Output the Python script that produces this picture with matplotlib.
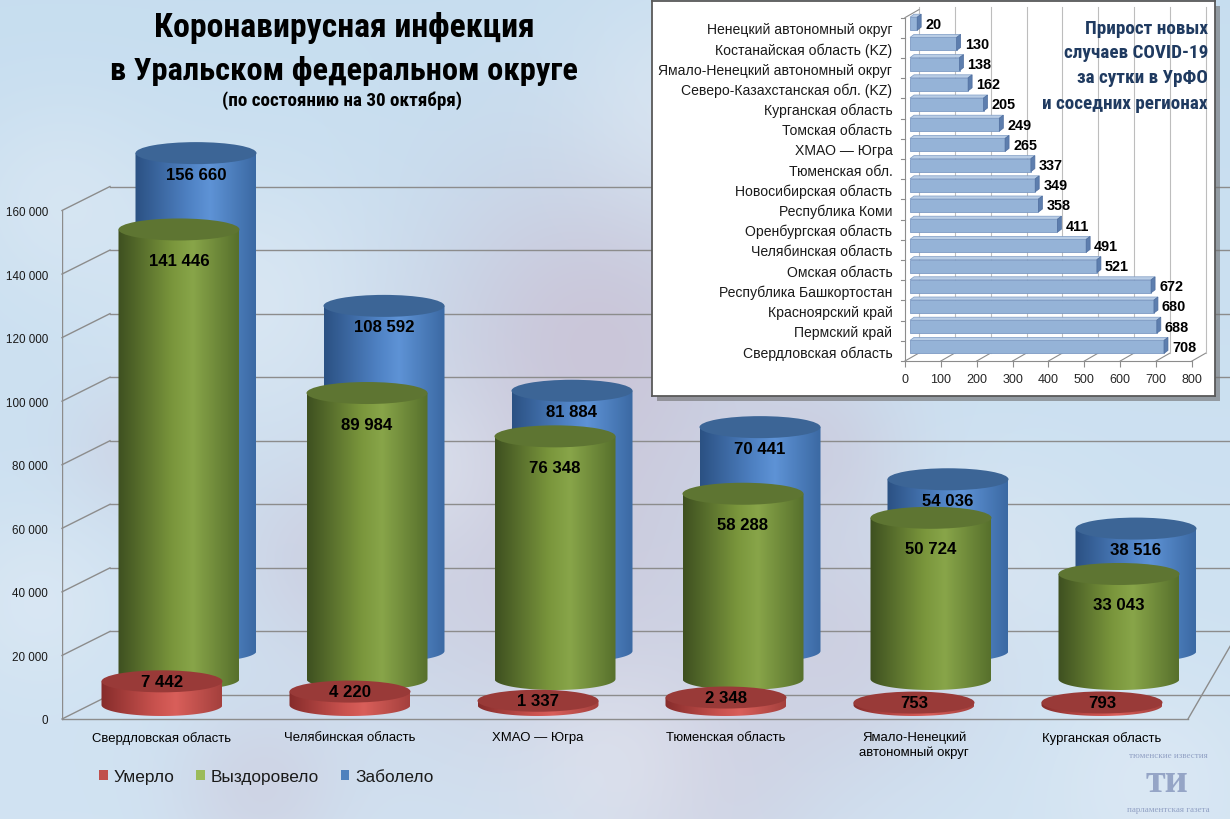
import numpy as np
import matplotlib
matplotlib.use('Agg')
import matplotlib.pyplot as plt
from matplotlib import font_manager as fm
from matplotlib.patches import Ellipse, Rectangle, Polygon, PathPatch
from matplotlib.path import Path
from matplotlib.colors import LinearSegmentedColormap

# --- данные основной диаграммы ---
regions = ['Свердловская область', 'Челябинская область', 'ХМАО — Югра',
           'Тюменская область', 'Ямало-Ненецкий\nавтономный округ', 'Курганская область']
died = [7442, 4220, 1337, 2348, 753, 793]
recovered = [141446, 89984, 76348, 58288, 50724, 33043]
infected = [156660, 108592, 81884, 70441, 54036, 38516]
y_ticks = [0, 20000, 40000, 60000, 80000, 100000, 120000, 140000, 160000]
legend_labels = ['Умерло', 'Выздоровело', 'Заболело']

# --- данные врезки (сверху вниз) ---
inc_regions = ['Ненецкий автономный округ', 'Костанайская область (KZ)',
               'Ямало-Ненецкий автономный округ', 'Северо-Казахстанская обл. (KZ)',
               'Курганская область', 'Томская область', 'ХМАО — Югра', 'Тюменская обл.',
               'Новосибирская область', 'Республика Коми', 'Оренбургская область',
               'Челябинская область', 'Омская область', 'Республика Башкортостан',
               'Красноярский край', 'Пермский край', 'Свердловская область']
inc_values = [20, 130, 138, 162, 205, 249, 265, 337, 349, 358, 411, 491, 521, 672, 680, 688, 708]
inc_ticks = [0, 100, 200, 300, 400, 500, 600, 700, 800]

title1 = 'Коронавирусная инфекция'
title2 = 'в Уральском федеральном округе'
subtitle = '(по состоянию на 30 октября)'
inset_title = ['Прирост новых', 'случаев COVID-19', 'за сутки в УрФО', 'и соседних регионах']

plt.rcParams['font.family'] = ['Liberation Sans', 'DejaVu Sans']

# узкий шрифт для заголовков, если найдётся
NARROW = {'family': 'Liberation Sans'}
found = {f.name for f in fm.fontManager.ttflist}
for c in ['Liberation Sans Narrow', 'Roboto Condensed', 'Open Sans Condensed',
          'Noto Sans Condensed', 'DejaVu Sans Condensed']:
    if c in found:
        NARROW = {'family': c}
        break
else:
    for f in fm.fontManager.ttflist:
        if f.name in ('Noto Sans', 'DejaVu Sans', 'Roboto', 'Open Sans') and \
                str(f.stretch) in ('condensed', 'semi-condensed', 'extra-condensed', 'ultra-condensed'):
            NARROW = {'family': f.name, 'stretch': 'condensed'}
            break

W, H = 1230, 820
fig = plt.figure(figsize=(W / 100, H / 100), dpi=100)
renderer = fig.canvas.get_renderer()


def fx(px):
    return px / W


def fy(py):
    return 1 - py / H


def fit_size(s, target, **kw):
    t = fig.text(0, 0, s, fontsize=10, **kw)
    w = t.get_window_extent(renderer).width
    t.remove()
    return 10 * target / w


# --- фон ---
bg = fig.add_axes([0, 0, 1, 1], zorder=0)
yy, xx = np.mgrid[0:H, 0:W]
t = yy / H
img = np.zeros((H, W, 3))
img[..., 0] = 0.78 + 0.04 * t
img[..., 1] = 0.87 + 0.02 * t
img[..., 2] = 0.94 + 0.01 * t
mauve = (0.79, 0.71, 0.79)
white = (0.94, 0.95, 0.97)
blobs = [(600, 330, 120, 0.55, mauve), (560, 570, 140, 0.45, mauve), (330, 560, 70, 0.3, mauve),
         (850, 640, 90, 0.35, mauve), (700, 790, 90, 0.3, mauve), (260, 790, 60, 0.3, mauve),
         (140, 450, 50, 0.25, mauve), (820, 450, 60, 0.3, mauve),
         (250, 300, 90, 0.35, white), (680, 110, 80, 0.35, white), (430, 470, 60, 0.3, white),
         (620, 760, 70, 0.35, white), (1000, 560, 70, 0.25, white), (40, 600, 60, 0.3, white),
         (1150, 780, 70, 0.3, white), (60, 200, 70, 0.3, white)]
for cx, cy, r, a, col in blobs:
    w = np.exp(-((xx - cx) ** 2 + (yy - cy) ** 2) / (2 * r * r)) * a
    img = img * (1 - w[..., None]) + np.array(col) * w[..., None]
bg.imshow(img, extent=[0, W, H, 0], aspect='auto', interpolation='bilinear')
bg.set_xlim(0, W)
bg.set_ylim(H, 0)
bg.axis('off')

# --- основная диаграмма (псевдо-3D цилиндры) ---
upp = 160000 / (720 - 211.5)      # единиц на пиксель по вертикали
cat_px = 188.0
x_first = 162.0


def dx(px):
    return px / cat_px


def dy(px):
    return px * upp


ax = fig.add_axes([fx(62), fy(725), (W - 62) / W, (725 - 100) / H], zorder=1)
ax.set_facecolor('none')
xlo, xhi = (62 - x_first) / cat_px, (W - x_first) / cat_px
ylo, yhi = -dy(5), dy(620)
grid_c = '#8c8c8c'

wd = (dx(48), dy(24))
for v in y_ticks:
    ax.plot([xlo, xlo + wd[0]], [v, v + wd[1]], color=grid_c, lw=1, zorder=0.5, clip_on=False)
    ax.plot([xlo + wd[0], xhi + 1], [v + wd[1]] * 2, color=grid_c, lw=1, zorder=0.5, clip_on=False)
ax.plot([xlo, xlo], [0, y_ticks[-1]], color=grid_c, lw=1, zorder=0.5)
ax.plot([xlo, (1188 - x_first) / cat_px], [0, 0], color=grid_c, lw=1, zorder=0.5)
ax.plot([(1188 - x_first) / cat_px, (1232 - x_first) / cat_px], [0, dy(76)], color=grid_c, lw=1,
        zorder=0.5, clip_on=False)

cyl_w = dx(121)
cyl_eh = dy(22)
grad = np.linspace(0, 1, 256)[None, :]


def cylinder(xc, base, value, cmap, top_col, z):
    top = base + value
    th = np.linspace(np.pi, 2 * np.pi, 80)
    bx = xc + cyl_w / 2 * np.cos(th)
    by = base + cyl_eh / 2 * np.sin(th)
    verts = [(xc - cyl_w / 2, top)] + list(zip(bx, by)) + [(xc + cyl_w / 2, top), (xc - cyl_w / 2, top)]
    codes = [Path.MOVETO] + [Path.LINETO] * (len(verts) - 2) + [Path.CLOSEPOLY]
    body = PathPatch(Path(verts, codes), fc='none', ec='none', zorder=z)
    ax.add_patch(body)
    im = ax.imshow(grad, cmap=cmap, extent=[xc - cyl_w / 2, xc + cyl_w / 2, base - cyl_eh / 2, top],
                   aspect='auto', origin='lower', zorder=z, interpolation='bilinear')
    im.set_clip_path(body)
    ax.add_patch(Ellipse((xc, top), cyl_w, cyl_eh, fc=top_col, ec='none', zorder=z + 0.1))
    return top


series = [
    (infected, dx(34), dy(68), ['#2b5183', '#4f82c4', '#5e93d6', '#3b69a3'], '#3c6596', 21, 2),
    (recovered, dx(17), dy(40), ['#3e5020', '#7a963c', '#88a549', '#57702c'], '#5e7532', 31, 3),
    (died, 0.0, dy(14), ['#862c2b', '#c9524e', '#d95f5a', '#a4403d'], '#993a38', 0, 4),
]
val_fs = fit_size('141 446', 61, weight='bold')
for vals, xo, base, cols, top_col, loff, z in series:
    cmap = LinearSegmentedColormap.from_list('c', list(zip([0, 0.45, 0.62, 1], cols)))
    for i, v in enumerate(vals):
        top = cylinder(i + xo, base, v, cmap, top_col, z)
        ax.text(i + xo, top - dy(loff), f'{v:,}'.replace(',', ' '), ha='center', va='center',
                fontsize=val_fs, weight='bold', color='black', zorder=10)

ax.set_xlim(xlo, xhi)
ax.set_ylim(ylo, yhi)
for s in ax.spines.values():
    s.set_visible(False)
ax.set_yticks(y_ticks)
ax.set_yticklabels([f'{v:,}'.replace(',', ' ') for v in y_ticks])
ax.tick_params(axis='y', length=0, pad=10, labelsize=fit_size('160 000', 42), labelcolor='#1a1a1a')
ax.set_xticks(range(len(regions)))
ax.set_xticklabels(regions)
ax.tick_params(axis='x', length=0, pad=5, labelsize=fit_size('Свердловская область', 140),
               labelcolor='black')

# легенда
leg_cols = ['#c0504d', '#9bbb59', '#4f81bd']
handles = [Rectangle((0, 0), 1, 1, fc=c, ec='none') for c in leg_cols]
leg_fs = fit_size('Выздоровело', 108)
fig.legend(handles, legend_labels, loc='center left', bbox_to_anchor=(fx(99), fy(778)), ncol=3,
           frameon=False, fontsize=leg_fs, handlelength=0.5, handleheight=0.5, handletextpad=0.35,
           columnspacing=1.25, borderpad=0, borderaxespad=0, labelcolor='#1a1a1a')

# заголовок
fs1 = fit_size(title1, 382, weight='bold', **NARROW)
fs2 = fit_size(title2, 468, weight='bold', **NARROW)
fs3 = fit_size(subtitle, 240, weight='bold', **NARROW)
fig.text(fx(344), fy(37), title1, ha='center', va='baseline', fontsize=fs1, weight='bold', **NARROW)
fig.text(fx(344), fy(80), title2, ha='center', va='baseline', fontsize=fs2, weight='bold', **NARROW)
fig.text(fx(342), fy(106), subtitle, ha='center', va='baseline', fontsize=fs3, weight='bold', **NARROW)

# логотип
logo_c = '#7f8fb8'
fig.text(fx(1168), fy(756), 'тюменские известия', ha='center', va='center', fontsize=6.5,
         family='Liberation Serif', color=logo_c, alpha=0.8)
fig.text(fx(1167), fy(783), 'ти', ha='center', va='center', fontsize=29, family='Liberation Serif',
         weight='bold', color=logo_c, alpha=0.75)
fig.text(fx(1168), fy(810), 'парламентская газета', ha='center', va='center', fontsize=6.5,
         family='Liberation Serif', color=logo_c, alpha=0.8)

# --- врезка ---
fig.add_artist(Rectangle((fx(657), fy(402)), (1215 - 652) / W, 395 / H, transform=fig.transFigure,
                         fc='#6e6e6e', ec='none', alpha=0.6, zorder=2.5))
frame = fig.add_axes([fx(652), fy(397), (1215 - 652) / W, 395 / H], zorder=3)
frame.set_facecolor('white')
frame.set_xticks([])
frame.set_yticks([])
for s in frame.spines.values():
    s.set_color('#595959')
    s.set_linewidth(1.3)

ppu = (1192 - 905) / 800
slot = (362 - 18.6) / 17


def idx(px):
    return px / ppu


def idy(px):
    return px / slot


iax = fig.add_axes([fx(905), fy(362), (1192 - 905) / W, (362 - 18.6) / H], zorder=4)
iax.set_facecolor('none')
iax.set_xlim(0, 800)
iax.set_ylim(-0.5, 16.5)
for s in iax.spines.values():
    s.set_visible(False)

gd = (idx(14), idy(8))
for v in inc_ticks:
    iax.plot([v, v + gd[0]], [-0.5, -0.5 + gd[1]], color='#8c8c8c', lw=0.8, clip_on=False, zorder=1)
    iax.plot([v + gd[0]] * 2, [-0.5 + gd[1], 16.5 + idy(11)], color='#bdbdbd', lw=0.8,
             clip_on=False, zorder=1)
iax.plot([0, 800], [-0.5, -0.5], color='#8c8c8c', lw=0.8, clip_on=False, zorder=1)
iax.plot([0, 0], [-0.5, 16.5], color='#8c8c8c', lw=0.8, clip_on=False, zorder=1)
iax.plot([0, gd[0]], [16.5, 16.5 + gd[1]], color='#8c8c8c', lw=0.8, clip_on=False, zorder=1)
for k in range(18):
    iax.plot([-idx(4), 0], [k - 0.5] * 2, color='#8c8c8c', lw=0.8, clip_on=False, zorder=1)

vals_up = inc_values[::-1]
labs_up = inc_regions[::-1]
bo = (idx(5), idy(4))
bh = idy(13)
bd = (idx(4), idy(3))
ival_fs = fit_size('708', 24, weight='bold')
for i, v in enumerate(vals_up):
    x0 = bo[0]
    yb = i - bh / 2 + bo[1]
    yt = yb + bh
    iax.add_patch(Rectangle((x0, yb), v, bh, fc='#95b3d7', ec='#7d9bc4', lw=0.6, zorder=3,
                            clip_on=False))
    iax.add_patch(Polygon([(x0, yt), (x0 + v, yt), (x0 + v + bd[0], yt + bd[1]), (x0 + bd[0], yt + bd[1])],
                          closed=True, fc='#b9cde5', ec='#7d9bc4', lw=0.5, zorder=3, clip_on=False))
    iax.add_patch(Polygon([(x0 + v, yb), (x0 + v + bd[0], yb + bd[1]), (x0 + v + bd[0], yt + bd[1]),
                           (x0 + v, yt)], closed=True, fc='#5d7eae', ec='#4f6e9e', lw=0.5, zorder=3,
                          clip_on=False))
    iax.text(x0 + v + bd[0] + idx(4), i + bo[1], str(v), ha='left', va='center', fontsize=ival_fs,
             weight='bold', color='black', zorder=5, clip_on=False)

iax.set_xticks(inc_ticks)
iax.tick_params(axis='x', length=4, color='#8c8c8c', pad=5, labelsize=fit_size('800', 21),
                labelcolor='#262626')
iax.set_yticks(range(len(labs_up)))
iax.set_yticklabels(labs_up)
iax.tick_params(axis='y', length=0, pad=9, labelsize=fit_size('Ямало-Ненецкий автономный округ', 235),
                labelcolor='#1a1a1a')

it_fs = fit_size(inset_title[3], 166, weight='bold', **NARROW)
for line, yc in zip(inset_title, [29, 53, 78, 104]):
    fig.text(fx(1208), fy(yc), line, ha='right', va='center', fontsize=it_fs,
             weight='bold', color='#1f3a60', zorder=6, **NARROW)

fig.savefig('out.png', dpi=100)
